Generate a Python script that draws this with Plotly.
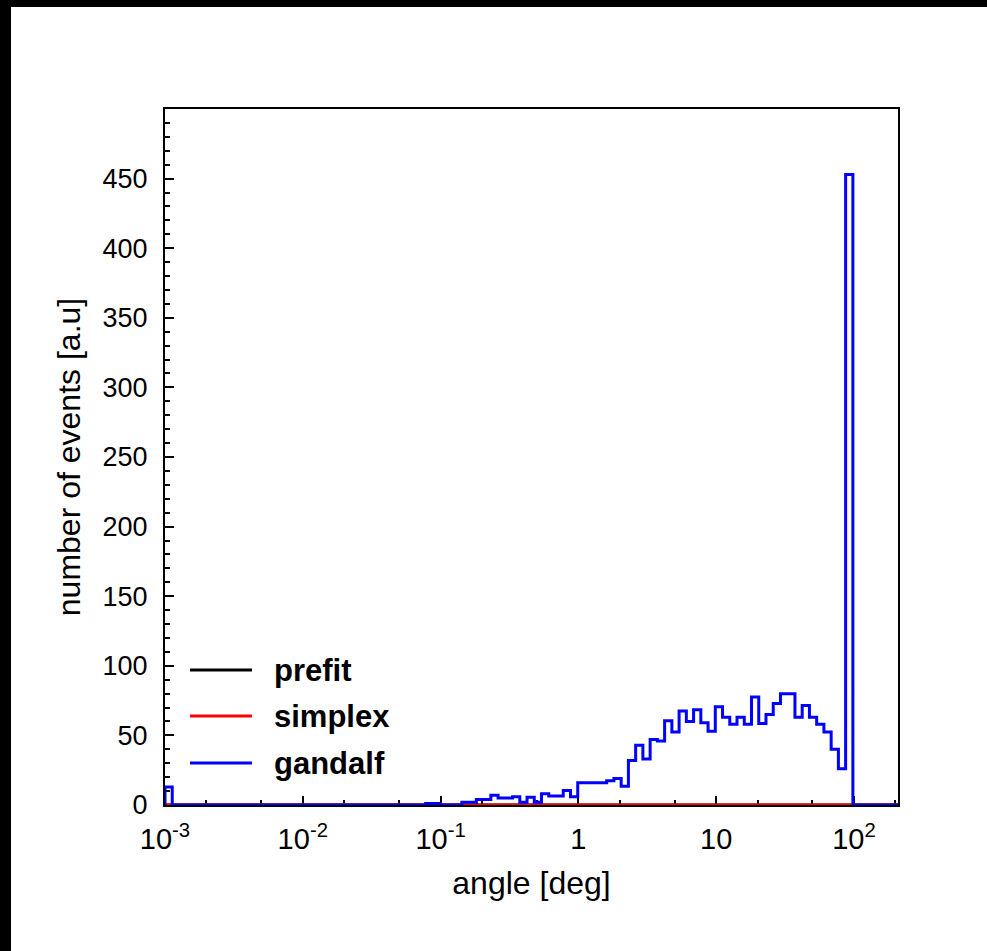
import numpy as np
import plotly.graph_objects as go

# ---- binning (log-spaced histogram bins, 1e-3 .. 180 deg, 100 bins) ----
LOG_MIN = -3.0
LOG_MAX = np.log10(180.0)
N_BINS = 100
N_EXTRA = 4  # empty bins past the histogram range so the zero line reaches the frame

# ---- series values (counts per bin) ----
gandalf_counts = [
    13, 0, 0, 0, 0, 0, 0, 0, 0, 0,          # 0-9
    0, 0, 0, 0, 0, 0, 0, 0, 0, 0,           # 10-19
    0, 0, 0, 0, 0, 0, 0, 0, 0, 0,           # 20-29
    0, 0, 0, 0, 0, 0, 1, 1, 0, 0,           # 30-39
    0, 2, 2, 4, 4, 7, 5, 5, 6, 2,           # 40-49
    5.5, 2, 8, 6.5, 6.5, 10.5, 6, 16, 16, 16,   # 50-59
    16, 17.5, 19, 13.5, 32, 43, 33, 47, 46, 60.5,  # 60-69
    52.5, 67.5, 60, 68.5, 59, 53, 70.5, 63, 58, 63,  # 70-79
    58, 77.5, 58.5, 65, 73, 80, 80, 63, 71.5, 63,  # 80-89
    58, 52.5, 40, 26, 453, 0, 0, 0, 0, 0,   # 90-99
]
simplex_counts = [0] * N_BINS
prefit_counts = [0] * N_BINS

legend_names = ["prefit", "simplex", "gandalf"]
legend_colors = ["#000000", "#ff0000", "#0000ff"]

x_tickvals = [1e-3, 1e-2, 1e-1, 1, 10, 100]
x_ticktext = ["10<sup>-3</sup>", "10<sup>-2</sup>", "10<sup>-1</sup>", "1", "10", "10<sup>2</sup>"]
y_tickvals = [0, 50, 100, 150, 200, 250, 300, 350, 400, 450]

step = (LOG_MAX - LOG_MIN) / N_BINS
edges = 10 ** (LOG_MIN + step * np.arange(N_BINS + N_EXTRA + 1))


def step_xy(counts):
    c = list(counts) + [0] * N_EXTRA
    xs = [edges[0]] + list(edges)
    ys = [0] + c + [0]
    return xs, ys


FONT = "Liberation Sans, Arial, Helvetica, sans-serif"
FS_XTICK = 29
FS_YTICK = 27
FS_TITLE = 32
FS_LEG = 31

fig = go.Figure()
for name, counts, color in zip(legend_names,
                               [prefit_counts, simplex_counts, gandalf_counts],
                               legend_colors):
    xs, ys = step_xy(counts)
    fig.add_trace(go.Scatter(x=xs, y=ys, mode="lines", name=name,
                             line=dict(color=color, width=3, shape="hv"),
                             showlegend=False))

# page geometry
W, H = 987, 951
L, R, T, B = 165, 89, 109, 146
pw, ph = W - L - R, H - T - B


def px_x(p):
    return (p - L) / pw


def px_y(p):
    return (H - B - p) / ph


shapes = [
    # black strips on top and left of the page
    dict(type="rect", xref="paper", yref="paper", x0=px_x(0), x1=px_x(W), y0=px_y(0), y1=px_y(7),
         fillcolor="black", line_width=0, layer="above"),
    dict(type="rect", xref="paper", yref="paper", x0=px_x(0), x1=px_x(11), y0=px_y(0), y1=px_y(H),
         fillcolor="black", line_width=0, layer="above"),
]
annotations = []
# manual legend (no box)
leg_y = [670, 716, 763]
for name, color, yy in zip(legend_names, legend_colors, leg_y):
    shapes.append(dict(type="line", xref="paper", yref="paper",
                       x0=px_x(190), x1=px_x(252), y0=px_y(yy), y1=px_y(yy),
                       line=dict(color=color, width=3)))
    annotations.append(dict(xref="paper", yref="paper", x=px_x(272), y=px_y(yy),
                            text="<b>%s</b>" % name, showarrow=False,
                            xanchor="left", yanchor="middle",
                            font=dict(family=FONT, size=FS_LEG, color="black")))

fig.update_layout(
    width=W, height=H,
    margin=dict(l=L, r=R, t=T, b=B),
    paper_bgcolor="white", plot_bgcolor="white",
    font=dict(family=FONT, size=FS_YTICK, color="black"),
    shapes=shapes, annotations=annotations,
)
fig.update_xaxes(
    type="log", range=[-3, 2.32],
    tickvals=x_tickvals, ticktext=x_ticktext,
    ticks="inside", ticklen=9, tickwidth=2, tickcolor="black",
    minor=dict(ticks="inside", ticklen=5, tickwidth=1.5, tickcolor="black", showgrid=False),
    showline=True, linewidth=2, linecolor="black", mirror=True,
    showgrid=False, zeroline=False, layer="below traces",
    ticklabelstandoff=7,
    title=dict(text="angle [deg]", font=dict(family=FONT, size=FS_TITLE), standoff=18),
    tickfont=dict(family=FONT, size=FS_XTICK),
)
fig.update_yaxes(
    range=[0, 500],
    tickvals=y_tickvals,
    ticks="inside", ticklen=9, tickwidth=2, tickcolor="black",
    minor=dict(ticks="inside", ticklen=5, tickwidth=1.5, tickcolor="black", dtick=10, showgrid=False),
    showline=True, linewidth=2, linecolor="black", mirror=True,
    showgrid=False, zeroline=False, layer="below traces",
    ticklabelstandoff=10,
    title=dict(text="number of events [a.u]", font=dict(family=FONT, size=FS_TITLE), standoff=12),
    tickfont=dict(family=FONT, size=FS_YTICK),
)

fig.write_html("out.html")
